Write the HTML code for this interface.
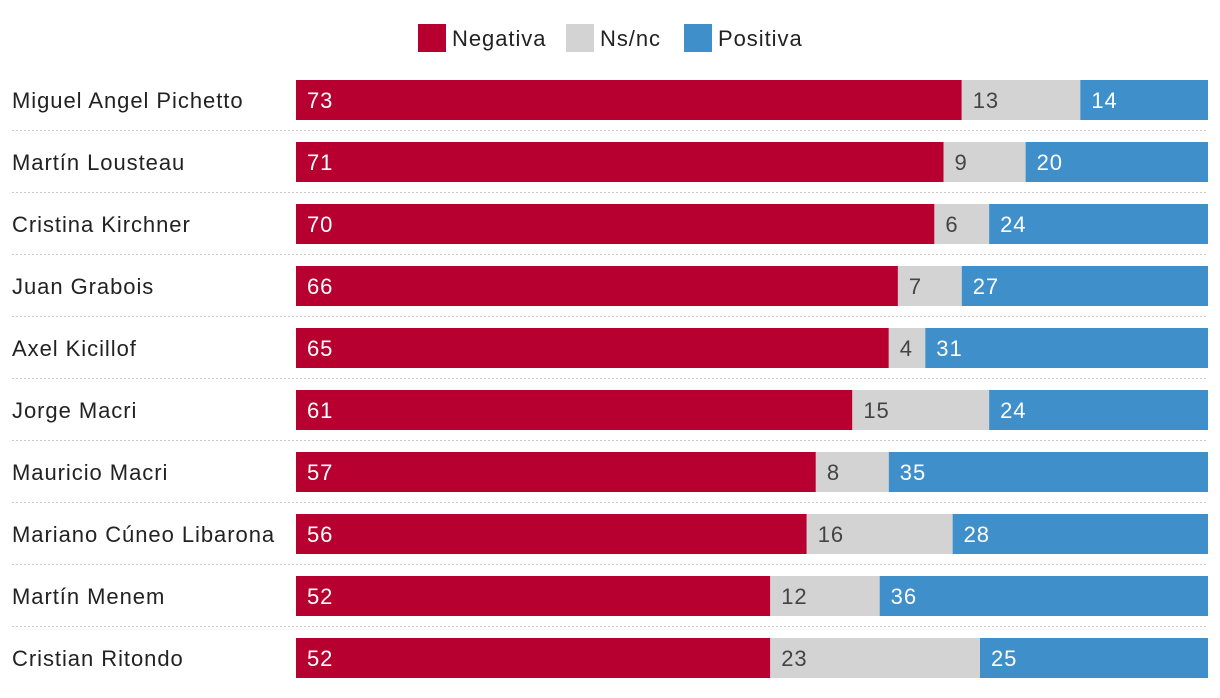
<!DOCTYPE html>
<html><head><meta charset="utf-8"><style>
html,body{margin:0;padding:0;background:#fff;width:1220px;height:698px;overflow:hidden}
svg{display:block;font-family:"Liberation Sans",sans-serif}
svg text{letter-spacing:0.95px}
</style></head><body>
<svg id="c" width="1220" height="698"></svg>
<script>
const categories=["Miguel Angel Pichetto","Martín Lousteau","Cristina Kirchner","Juan Grabois","Axel Kicillof","Jorge Macri","Mauricio Macri","Mariano Cúneo Libarona","Martín Menem","Cristian Ritondo"];
const negativa=[73,71,70,66,65,61,57,56,52,52];
const nsnc=[13,9,6,7,4,15,8,16,12,23];
const positiva=[14,20,24,27,31,24,35,28,36,25];
const seriesNames=["Negativa","Ns/nc","Positiva"];
const colors=["#b80030","#d3d3d3","#3f8fca"];
const textColors=["#fff","#444","#fff"];
const NS="http://www.w3.org/2000/svg";
const svg=document.getElementById('c');
const x0=296,x1=1208;
const xs=v=>v/100*(x1-x0);
const rowY=i=>80+i*62;
function mk(t,a,p){const e=document.createElementNS(NS,t);for(const k in a)e.setAttribute(k,a[k]);(p||svg).appendChild(e);return e;}
const lx=[418,566,684];
seriesNames.forEach((n,i)=>{
  const g=mk('g',{});
  
  
  mk('rect',{x:lx[i],y:24,width:28,height:28,fill:colors[i]},g);
  const t=mk('text',{x:lx[i]+34,y:46,'font-size':22,fill:'#222'},g);t.textContent=n;
});
const series=[negativa,nsnc,positiva];
categories.forEach((c,i)=>{
  const y=rowY(i);
  const g=mk('g',{});
  
  
  const lab=mk('text',{x:12,y:y+28,'font-size':22,fill:'#222'},g);
  
  
  lab.textContent=c;
  let acc=0;
  series.forEach((s,j)=>{
    const r=mk('rect',{x:x0+xs(acc),y:y,width:xs(s[i]),height:40,fill:colors[j]},g);
    
    
    const t=mk('text',{x:x0+xs(acc)+11,y:y+28,'font-size':22,fill:textColors[j]},g);
    
    
    t.textContent=s[i];
    acc+=s[i];
  });
  if(i<categories.length-1){
    const l=mk('line',{x1:12,x2:1208,y1:y+50.5,y2:y+50.5,stroke:'#c8c8c8','stroke-width':1,'stroke-dasharray':'2,2'},g);
    
    
  }
});
</script>
</body></html>
